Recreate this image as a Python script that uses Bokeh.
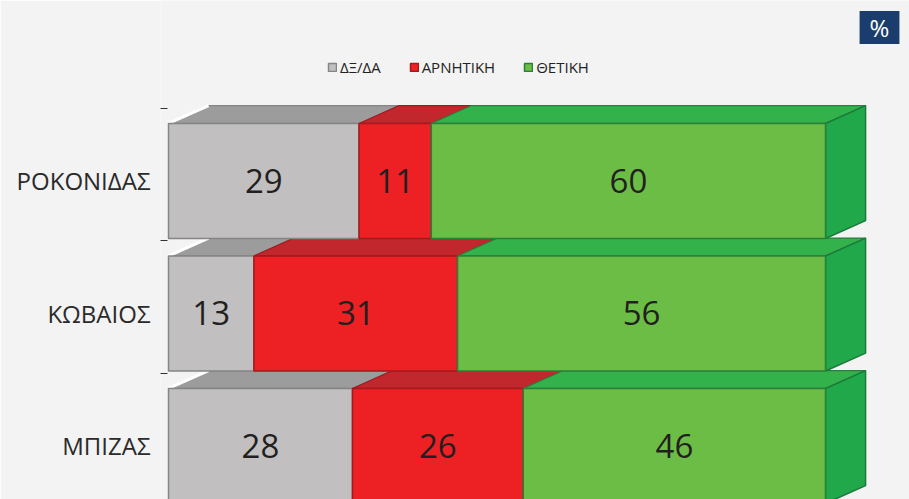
from bokeh.plotting import figure
from bokeh.models import Legend, LegendItem, Label, FixedTicker, Range1d
from bokeh.core.properties import value
from bokeh.embed import file_html
from bokeh.resources import INLINE

# ---- data ----
candidates = ["ΡΟΚΟΝΙΔΑΣ", "ΚΩΒΑΙΟΣ", "ΜΠΙΖΑΣ"]
series = ["ΔΞ/ΔΑ", "ΑΡΝΗΤΙΚΗ", "ΘΕΤΙΚΗ"]
dk_da = [29, 13, 28]
negative = [11, 31, 26]
positive = [60, 56, 46]

# ---- style ----
front_colors = ["#c1bfbf", "#ed2024", "#6cbd45"]
top_colors = ["#9c9c9c", "#c1272d", "#33b24b"]
edge_colors = ["#858585", "#a3191e", "#2b7f3c"]
side_color = "#21a84b"
side_edge = "#1b7a3a"
bg = "#f3f3f3"

half = 0.434   # half height of front face (category units)
dx = 6.1       # depth offset in x (value units)
dy = 0.135     # depth offset in y (category units)

ypos = [len(candidates) - 1 - i for i in range(len(candidates))]
values = [dk_da, negative, positive]

p = figure(width=909, height=499, output_backend="svg", toolbar_location=None,
           x_range=Range1d(-1.218, 112.785), y_range=Range1d(-0.404, 3.362),
           min_border_left=160, min_border_right=0, min_border_top=0, min_border_bottom=0,
           background_fill_color=bg, border_fill_color=bg)
p.outline_line_color = None
p.xgrid.visible = False
p.ygrid.visible = False
p.xaxis.visible = False

yax = p.yaxis[0]
yax.ticker = FixedTicker(ticks=ypos, minor_ticks=[y + 0.55 for y in ypos])
yax.major_label_overrides = {y: c for y, c in zip(ypos, candidates)}
yax.major_label_text_font_size = "24px"
yax.major_label_text_font = "Open Sans"
yax.major_label_text_color = "#2a2a2a"
yax.major_label_standoff = 10
yax.major_tick_in = 0
yax.major_tick_out = 0
yax.minor_tick_in = 7
yax.minor_tick_out = 0
yax.minor_tick_line_color = "#333333"
yax.axis_line_color = None

# cumulative positions
lefts, rights = [], []
cum = [0] * len(candidates)
for vals in values:
    l = list(cum)
    r = [c + v for c, v in zip(cum, vals)]
    lefts.append(l)
    rights.append(r)
    cum = r

# top faces
for k in range(len(series)):
    xs, ys = [], []
    for i, y in enumerate(ypos):
        l, r = lefts[k][i], rights[k][i]
        yt = y + half
        xs.append([l, r, r + dx, l + dx])
        ys.append([yt, yt, yt + dy, yt + dy])
    p.patches(xs, ys, fill_color=top_colors[k], line_color=edge_colors[k], line_width=1.2)

# left white wall edge
wx, wy = [], []
for i, y in enumerate(ypos):
    wx.append([0, dx])
    wy.append([y + half, y + half + dy])
p.multi_line(wx, wy, line_color="white", line_width=3)

# right side faces of last segment
sx, sy = [], []
for i, y in enumerate(ypos):
    r = rights[-1][i]
    sx.append([r, r, r + dx, r + dx])
    sy.append([y - half, y + half, y + half + dy, y - half + dy])
p.patches(sx, sy, fill_color=side_color, line_color=side_edge, line_width=1.5)

# front faces
front_renderers = []
for k in range(len(series)):
    r = p.quad(left=lefts[k], right=rights[k],
               bottom=[y - half for y in ypos], top=[y + half for y in ypos],
               fill_color=front_colors[k], line_color=edge_colors[k], line_width=1.5)
    front_renderers.append(r)

# value labels
for k in range(len(series)):
    p.text(x=[(a + b) / 2 for a, b in zip(lefts[k], rights[k])], y=ypos,
           text=[str(v) for v in values[k]],
           text_font=value("Open Sans"), text_font_size="33px", text_color="#231f20",
           text_align="center", text_baseline="middle")

legend = Legend(items=[LegendItem(label=value(s), renderers=[front_renderers[k]])
                       for k, s in enumerate(series)],
                orientation="horizontal", location=(167, 422),
                label_text_font="Open Sans", label_text_font_size="15px",
                label_text_color="#222222", glyph_width=10, glyph_height=10,
                label_standoff=3, spacing=28, padding=0, margin=0,
                background_fill_alpha=0, border_line_color=None)
p.add_layout(legend, "center")

pct = Label(x=719, y=472, x_units="screen", y_units="screen", text="%",
            text_color="white", text_font="Open Sans", text_font_size="24px",
            text_align="center", text_baseline="middle",
            background_fill_color="#1b3d6e", padding=(10, 0))
p.add_layout(pct)

open("out.html", "w").write(file_html(p, INLINE))
